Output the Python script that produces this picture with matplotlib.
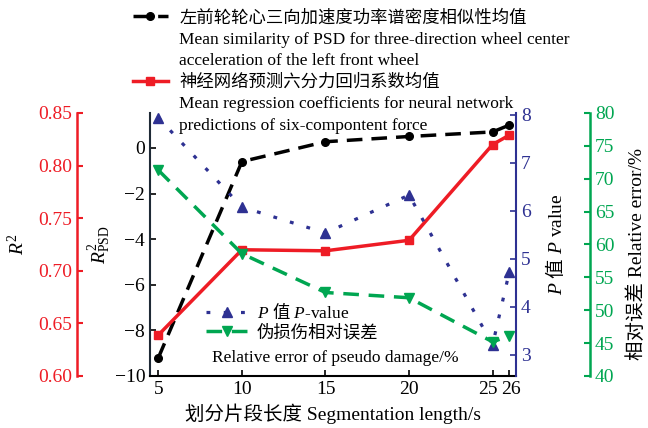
import matplotlib
matplotlib.use("Agg")
import matplotlib.pyplot as plt
from matplotlib.lines import Line2D
from matplotlib.transforms import ScaledTranslation

plt.rcParams['font.family'] = ['Liberation Serif', 'Noto Sans CJK SC']
plt.rcParams['mathtext.fontset'] = 'custom'
plt.rcParams['mathtext.rm'] = 'Liberation Serif'
plt.rcParams['mathtext.it'] = 'Liberation Serif:italic'
plt.rcParams['mathtext.sf'] = 'Noto Sans CJK SC'

# ---- data ----
seg_len = [5, 10, 15, 20, 25, 26]
psd_sim = [-9.2, -0.6, 0.27, 0.5, 0.7, 1.0]
r2_nn = [0.639, 0.720, 0.719, 0.729, 0.820, 0.829]
p_value = [7.94, 6.08, 5.54, 6.33, 3.21, 4.73]
rel_err = [71.3, 58.6, 52.7, 51.9, 45.2, 46.1]
xticks = [5, 10, 15, 20, 25, 26]

RED = '#ee1c25'
BLUE = '#2e3192'
GREEN = '#00a651'
DARK = '#1f2a36'

fig = plt.figure(figsize=(6.48, 4.28), dpi=100)
ax = fig.add_axes([0.2315, 0.1215, 0.5648, 0.6145])

FS_TICK = 14
FS_LAB = 14
FS_LEG = 12.5

# main axis (R2_PSD)
ax.set_xlim(4.5, 26.4)
ax.set_ylim(-10, 1.53)
ax.set_xticks(xticks)
ax.set_yticks(range(-10, 1, 2))
ax.set_yticklabels(['\u2212%d' % abs(v) if v < 0 else str(v) for v in range(-10, 1, 2)])
ax.tick_params(axis='both', direction='in', labelsize=FS_TICK, length=4, width=1.2)
# nudge the crowded 25 / 26 tick labels apart
xlabels = ax.get_xticklabels()
for lab, val in zip(xlabels, xticks):
    if val == 25:
        lab.set_transform(lab.get_transform() + ScaledTranslation(-5 / 100, 0, fig.dpi_scale_trans))
    if val == 26:
        lab.set_transform(lab.get_transform() + ScaledTranslation(2 / 100, 0, fig.dpi_scale_trans))
ax.spines['top'].set_visible(False)
ax.spines['right'].set_visible(False)
ax.spines['left'].set_color(DARK)
ax.spines['left'].set_linewidth(1.5)
ax.spines['bottom'].set_linewidth(1.5)
ax.set_ylabel(r'$R^2_{\mathrm{PSD}}$', fontsize=FS_LAB)
ax.yaxis.set_label_coords(-0.100, 0.5)
ax.set_xlabel('划分片段长度 Segmentation length/s', fontsize=FS_LAB, labelpad=4)

# red axis (R2)
axr = ax.twinx()
axr.set_ylim(0.60, 0.85)
axr.yaxis.set_ticks_position('left')
axr.yaxis.set_label_position('left')
for s in ['top', 'right', 'bottom']:
    axr.spines[s].set_visible(False)
axr.spines['left'].set_visible(True)
axr.spines['left'].set_position(('axes', -0.1995))
axr.spines['left'].set_color(RED)
axr.spines['left'].set_linewidth(1.8)
axr.set_yticks([0.60, 0.65, 0.70, 0.75, 0.80, 0.85])
axr.set_yticklabels(['%.2f' % v for v in [0.60, 0.65, 0.70, 0.75, 0.80, 0.85]])
axr.tick_params(axis='y', direction='in', colors=RED, labelsize=FS_TICK, length=4, width=1.5)
axr.set_ylabel(r'$R^2$', fontsize=FS_LAB)
axr.yaxis.set_label_coords(-0.333, 0.5)

# blue axis (P value)
axb = ax.twinx()
axb.set_ylim(2.56, 8.04)
for s in ['top', 'left', 'bottom']:
    axb.spines[s].set_visible(False)
axb.spines['right'].set_color(BLUE)
axb.spines['right'].set_linewidth(1.5)
axb.set_yticks([3, 4, 5, 6, 7, 8])
axb.tick_params(axis='y', direction='in', colors=BLUE, labelsize=FS_TICK, length=4, width=1.2)
axb.set_ylabel(r'$P$ $\mathsf{值}$ $P$ value', fontsize=FS_LAB)
axb.yaxis.set_label_coords(1.075, 0.5)

# green axis (relative error)
axg = ax.twinx()
axg.set_ylim(40, 80)
for s in ['top', 'left', 'bottom']:
    axg.spines[s].set_visible(False)
axg.spines['right'].set_position(('axes', 1.202))
axg.spines['right'].set_color(GREEN)
axg.spines['right'].set_linewidth(1.8)
axg.set_yticks(range(40, 81, 5))
axg.tick_params(axis='y', direction='in', colors=GREEN, labelsize=FS_TICK, length=4, width=1.5)
axg.set_ylabel('相对误差 Relative error/%', fontsize=FS_LAB)
axg.yaxis.set_label_coords(1.305, 0.464)

# lines
lg, = axg.plot(seg_len, rel_err, color=GREEN, lw=2.5, linestyle=(0, (4.5, 2.8)),
               marker='v', markersize=6.5, zorder=3)
lb, = axb.plot(seg_len, p_value, color=BLUE, lw=2.3, linestyle=(0, (1.2, 4.2)),
               dash_capstyle='butt', marker='^', markersize=6.5, zorder=3)
lk, = ax.plot(seg_len, psd_sim, color='black', lw=2.5, linestyle=(0, (4.5, 2.6)),
              marker='o', markersize=5.5, zorder=3)
lr, = axr.plot(seg_len, r2_nn, color=RED, lw=2.5, marker='s', markersize=6, zorder=3)

blank = Line2D([], [], alpha=0)

# top legend (outside)
top_handles = [lk, blank, blank, lr, blank, blank]
top_labels = ['左前轮轮心三向加速度功率谱密度相似性均值',
              'Mean similarity of PSD for three-direction wheel center',
              'acceleration of the left front wheel',
              '神经网络预测六分力回归系数均值',
              'Mean regression coefficients for neural network',
              'predictions of six-compontent force']
leg1 = fig.legend(top_handles, top_labels, loc='upper left',
                  bbox_to_anchor=(0.192, 0.997), frameon=False, fontsize=FS_LEG,
                  handlelength=2.0, handletextpad=0.65, labelspacing=0.3,
                  borderaxespad=0.1)

# bottom legend (inside)
bot_handles = [lb, lg]
bot_labels = [r'$P$ $\mathsf{值}$ $P$-value', '伪损伤相对误差']
leg2 = fig.legend(bot_handles, bot_labels, loc='upper left',
                  bbox_to_anchor=(0.305, 0.317), frameon=False, fontsize=FS_LEG,
                  handlelength=2.4, handletextpad=0.5, labelspacing=0.15,
                  borderaxespad=0.1)
fig.text(212 / 648, 1 - 358 / 428, 'Relative error of pseudo damage/%',
         fontsize=FS_LEG, ha='left', va='center')

fig.savefig('out.png', dpi=100)
